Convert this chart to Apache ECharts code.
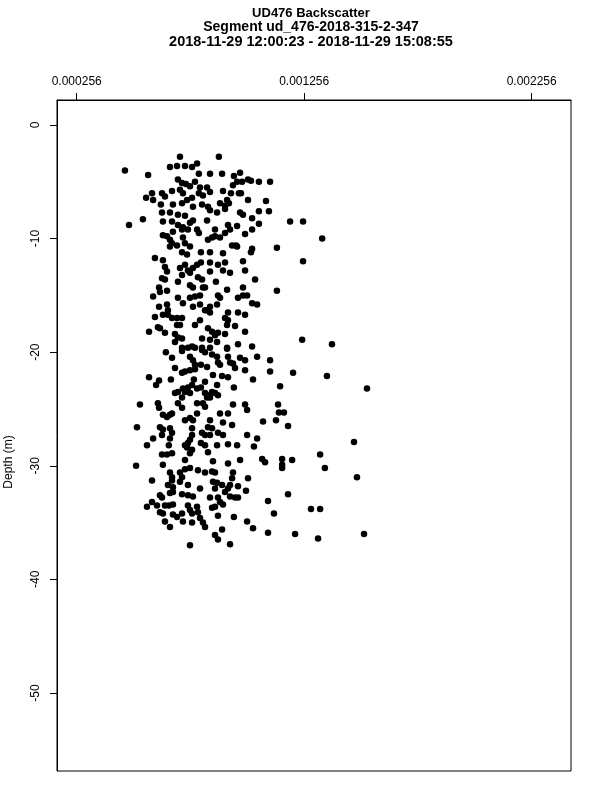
<!DOCTYPE html>
<html>
<head>
<meta charset="utf-8">
<script src="https://cdn.jsdelivr.net/npm/echarts@6/dist/echarts.min.js"></script>
<style>html,body{margin:0;padding:0;background:#fff}#chart{width:600px;height:800px}</style>
</head>
<body>
<div id="chart"></div>
<script>
const titleLines = [
  'UD476 Backscatter',
  'Segment ud_476-2018-315-2-347',
  '2018-11-29 12:00:23 - 2018-11-29 15:08:55'
];
const yAxisTitle = 'Depth (m)';
const xTickValues = [0.000256, 0.001256, 0.002256];
const yTickValues = [0, -10, -20, -30, -40, -50];
const xRange = [0.0001694, 0.0024288];
const yRange = [-56.87, 2.2];

const backscatter = [
  0.000710,0.000881,0.000468,0.000570,0.000666,0.000697,0.000732,0.000763,0.000785,0.000793,
  0.000842,0.000895,0.000947,0.000974,0.001009,0.000701,0.000719,0.000736,0.000754,0.000776,
  0.000798,0.000829,0.000842,0.000943,0.000961,0.000587,0.000561,0.000631,0.000644,0.000675,
  0.000710,0.000723,0.000741,0.000763,0.000793,0.000811,0.000899,0.000934,0.000969,0.000917,
  0.001009,0.000592,0.000626,0.000679,0.000719,0.000767,0.000807,0.000833,0.000842,0.000886,
  0.000908,0.000925,0.000631,0.000666,0.000701,0.000732,0.000767,0.000754,0.000873,0.000908,
  0.000974,0.000987,0.000486,0.000547,0.000635,0.000675,0.000701,0.000723,0.000745,0.000785,
  0.000829,0.000864,0.000921,0.000930,0.000908,0.000961,0.000996,0.000635,0.000653,0.000679,
  0.000719,0.000793,0.000666,0.000675,0.000723,0.000732,0.000833,0.000851,0.000864,0.000886,
  0.000939,0.000956,0.000983,0.001022,0.001057,0.001106,0.000978,0.001088,0.001027,0.001057,
  0.001101,0.001057,0.001027,0.001194,0.001251,0.001335,0.001136,0.001027,0.000666,0.000697,
  0.000719,0.000741,0.000754,0.000802,0.000842,0.000899,0.000961,0.001022,0.000600,0.000635,
  0.000644,0.000653,0.000710,0.000732,0.000745,0.000767,0.000785,0.000802,0.000842,0.000877,
  0.000908,0.000899,0.000930,0.000987,0.000996,0.000842,0.000719,0.000754,0.000631,0.000644,
  0.000789,0.000807,0.000701,0.000754,0.000767,0.000811,0.000820,0.000868,0.001040,0.000618,
  0.000622,0.000653,0.000917,0.000987,0.000592,0.000701,0.000754,0.000776,0.000798,0.000877,
  0.000886,0.000965,0.000987,0.001005,0.000723,0.000767,0.000798,0.000842,0.000829,0.000873,
  0.001027,0.001049,0.000618,0.000653,0.000657,0.000600,0.000635,0.000657,0.000675,0.000697,
  0.000719,0.000798,0.000820,0.000842,0.000908,0.000921,0.000921,0.000965,0.000996,0.000697,
  0.000710,0.000776,0.000917,0.000952,0.000613,0.000622,0.000574,0.000644,0.000688,0.000701,
  0.000719,0.000833,0.000851,0.000864,0.000877,0.000908,0.000996,0.000807,0.000688,0.000842,
  0.000873,0.000965,0.001027,0.000719,0.000763,0.000776,0.000807,0.000917,0.000719,0.000745,
  0.000807,0.000820,0.000842,0.000851,0.000917,0.000648,0.000675,0.000754,0.000767,0.000776,
  0.000802,0.000829,0.000873,0.000877,0.000886,0.000921,0.000930,0.000943,0.000952,0.000974,
  0.000996,0.001049,0.001106,0.000688,0.000719,0.000732,0.000754,0.000776,0.000996,0.001106,
  0.000574,0.000618,0.000605,0.000670,0.000771,0.000820,0.000855,0.000895,0.000921,0.001031,
  0.000873,0.000723,0.000745,0.000763,0.000785,0.000802,0.000947,0.000688,0.000701,0.000719,
  0.000732,0.000754,0.000820,0.000833,0.000851,0.000864,0.000829,0.000842,0.000811,0.000820,
  0.000877,0.000534,0.000613,0.000618,0.000701,0.000719,0.000785,0.000943,0.000996,0.001005,
  0.000635,0.000653,0.000666,0.000675,0.000732,0.000754,0.000767,0.000785,0.000842,0.000886,
  0.000921,0.001075,0.000521,0.000622,0.000635,0.000666,0.000675,0.000666,0.000763,0.000833,
  0.000851,0.000899,0.000939,0.000592,0.000631,0.000763,0.000754,0.000745,0.000807,0.000820,
  0.000842,0.000877,0.000899,0.001005,0.001049,0.000565,0.000661,0.000732,0.000802,0.000820,
  0.000873,0.000921,0.000961,0.001035,0.000741,0.000763,0.000754,0.000833,0.000631,0.000653,
  0.000675,0.000732,0.000635,0.000855,0.000921,0.000974,0.001071,0.001084,0.000517,0.000666,
  0.000675,0.000675,0.000710,0.000719,0.000710,0.000732,0.000754,0.000789,0.000820,0.000851,
  0.000864,0.000943,0.000939,0.001009,0.000587,0.000657,0.000679,0.000745,0.000798,0.000855,
  0.000873,0.000895,0.000864,0.000921,0.000930,0.000965,0.001000,0.000679,0.000666,0.000719,
  0.000745,0.000767,0.000622,0.000631,0.000842,0.000877,0.000886,0.000908,0.000930,0.000952,
  0.000965,0.001097,0.000565,0.000587,0.000609,0.000622,0.000635,0.000644,0.000661,0.000679,
  0.000745,0.000754,0.000785,0.000789,0.000851,0.000864,0.000899,0.000679,0.000697,0.000719,
  0.000763,0.000798,0.000811,0.000820,0.000877,0.000947,0.000723,0.000763,0.000644,0.000666,
  0.001005,0.001031,0.000895,0.001097,0.000864,0.000877,0.000754,0.000930,
  0.001251,0.001136,0.001247,0.001378,0.001207,0.001356,0.001150,0.001532,0.001141,0.001145,
  0.001167,0.001132,0.001185,0.001475,0.001326,0.001159,0.001159,0.001159,0.001203,0.001347,
  0.001488,0.001185,0.001123,0.001286,0.001326,0.001216,0.001317,0.001519
];

const depth = [
  -2.8,-2.8,-4.0,-4.4,-3.7,-3.6,-3.6,-3.7,-3.4,-4.3,
  -4.3,-4.3,-4.5,-4.2,-4.8,-4.8,-5.1,-5.2,-5.4,-5.0,
  -5.5,-5.5,-5.9,-5.3,-5.0,-6.0,-6.4,-6.0,-6.3,-5.8,
  -5.7,-6.0,-6.6,-6.4,-6.0,-6.2,-5.8,-6.0,-6.0,-6.6,
  -6.6,-6.6,-7.0,-7.0,-6.9,-7.2,-7.0,-7.2,-7.5,-6.9,
  -7.1,-6.9,-7.7,-7.7,-7.9,-8.0,-8.4,-8.6,-7.7,-7.4,
  -7.7,-7.9,-8.8,-8.3,-8.5,-8.5,-8.8,-9.0,-9.2,-9.2,
  -8.4,-9.2,-8.8,-9.2,-9.5,-8.9,-9.6,-9.7,-9.8,-9.4,
  -9.2,-9.5,-10.1,-10.4,-9.9,-10.4,-10.1,-9.9,-9.8,-9.9,
  -10.6,-10.6,-5.0,-4.9,-5.0,-5.0,-6.0,-6.7,-8.2,-7.6,
  -7.6,-8.7,-9.2,-8.5,-8.5,-10.0,-10.8,-10.9,-10.7,-10.6,
  -11.2,-11.4,-10.7,-11.2,-11.2,-11.3,-10.7,-11.2,-11.7,-11.9,
  -12.5,-12.9,-12.6,-12.3,-12.8,-12.6,-12.3,-12.1,-12.1,-12.3,
  -12.1,-12.8,-13.0,-12.0,-12.8,-12.9,-13.2,-13.0,-13.5,-13.6,
  -13.4,-13.6,-13.8,-14.1,-14.3,-14.3,-14.3,-13.8,-13.6,-14.3,
  -14.7,-14.6,-14.5,-14.3,-15.1,-15.2,-15.2,-15.1,-15.0,-15.0,
  -15.2,-15.2,-15.0,-15.0,-15.7,-16.0,-15.8,-16.0,-16.3,-15.8,
  -15.7,-15.8,-16.0,-15.8,-16.3,-16.9,-16.7,-16.7,-17.0,-17.0,
  -17.0,-17.2,-16.3,-16.5,-17.0,-17.2,-16.5,-16.5,-16.7,-17.6,
  -17.6,-17.6,-17.6,-17.7,-17.8,-17.9,-18.2,-18.3,-18.4,-18.7,
  -18.8,-17.9,-18.2,-18.5,-18.3,-18.4,-18.2,-18.8,-19.1,-18.9,
  -19.1,-19.3,-19.5,-19.6,-19.5,-19.6,-19.6,-19.6,-19.9,-19.6,
  -19.8,-20.0,-19.6,-20.2,-19.7,-20.0,-20.5,-20.4,-20.7,-21.1,
  -21.1,-21.3,-20.4,-20.9,-21.1,-20.4,-20.9,-21.0,-21.4,-20.5,
  -20.7,-20.4,-20.7,-21.4,-21.8,-21.7,-21.6,-21.5,-21.6,-21.7,
  -22.2,-22.5,-22.9,-22.4,-22.4,-22.6,-22.0,-22.1,-22.2,-22.4,
  -22.9,-23.2,-23.1,-22.9,-23.2,-23.1,-23.1,-23.6,-23.5,-24.0,
  -23.5,-23.6,-23.6,-23.8,-23.5,-23.6,-24.0,-24.0,-24.5,-24.8,
  -23.8,-24.6,-24.5,-24.9,-24.5,-24.9,-24.5,-24.6,-24.6,-25.1,
  -25.5,-25.7,-25.5,-25.4,-26.0,-25.8,-26.0,-25.4,-26.0,-25.4,
  -25.4,-26.1,-26.6,-26.6,-26.8,-26.7,-27.1,-27.6,-26.7,-26.6,
  -26.7,-26.2,-26.4,-27.6,-27.3,-27.3,-27.7,-28.0,-27.1,-27.3,
  -27.3,-27.1,-27.3,-27.3,-27.6,-28.2,-28.2,-28.2,-28.0,-28.2,
  -28.2,-28.1,-28.2,-28.3,-28.4,-28.6,-28.9,-28.8,-29.0,-29.0,
  -28.9,-29.5,-29.9,-29.6,-29.8,-29.5,-29.4,-29.7,-30.0,-30.6,
  -31.0,-31.3,-30.6,-31.0,-31.4,-30.3,-30.2,-30.4,-30.6,-30.5,
  -30.6,-30.6,-31.1,-31.1,-31.3,-31.7,-31.9,-31.7,-32.0,-31.4,
  -31.5,-31.7,-32.0,-32.0,-31.7,-31.8,-32.2,-32.3,-32.4,-32.5,
  -32.6,-32.7,-32.6,-32.8,-32.8,-32.8,-33.2,-32.3,-32.7,-32.8,
  -32.8,-33.1,-33.6,-33.2,-33.5,-34.1,-34.2,-33.5,-33.5,-33.4,
  -33.5,-33.9,-33.6,-34.1,-33.7,-33.6,-33.4,-34.3,-34.5,-34.2,
  -34.2,-34.6,-35.0,-35.4,-34.4,-34.5,-34.9,-35.0,-34.9,-35.4,
  -34.9,-35.5,-35.6,-35.9,-36.1,-36.5,-37.0,-36.9,
  -12.0,-14.6,-18.9,-19.3,-21.8,-22.1,-23.0,-23.2,-24.6,-25.3,
  -25.3,-26.0,-26.5,-27.9,-29.0,-29.4,-29.9,-30.2,-29.5,-30.2,
  -31.0,-32.5,-34.2,-33.8,-33.8,-36.0,-36.4,-36.0
];

const points = backscatter.map((v, i) => [v, depth[i]]);
const FONT = '"Liberation Sans", Arial, Helvetica, sans-serif';

const chart = echarts.init(document.getElementById('chart'), null, { renderer: 'canvas' });
chart.setOption({
  animation: false,
  backgroundColor: '#fff',
  grid: {
    left: 57, top: 100, right: 29, bottom: 29,
    show: true, borderColor: '#000', borderWidth: 1, backgroundColor: 'transparent'
  },
  graphic: [
    { type: 'text', x: 311, y: 13, style: { text: titleLines[0], font: 'bold 13px ' + FONT, fill: '#000', textAlign: 'center', textVerticalAlign: 'middle' } },
    { type: 'text', x: 311, y: 27.5, style: { text: titleLines[1], font: 'bold 14px ' + FONT, fill: '#000', textAlign: 'center', textVerticalAlign: 'middle' } },
    { type: 'text', x: 311, y: 42, style: { text: titleLines[2], font: 'bold 14.5px ' + FONT, fill: '#000', textAlign: 'center', textVerticalAlign: 'middle' } },
    { type: 'text', x: 9, y: 462, rotation: Math.PI / 2, style: { text: yAxisTitle, font: '12px ' + FONT, fill: '#000', textAlign: 'center', textVerticalAlign: 'middle' } }
  ],
  xAxis: {
    type: 'value',
    position: 'top',
    min: xRange[0],
    max: xRange[1],
    splitLine: { show: false },
    axisLine: { show: true, onZero: false, lineStyle: { color: '#000', width: 1 } },
    axisTick: { show: true, length: 7, customValues: xTickValues, lineStyle: { color: '#000', width: 1 } },
    axisLabel: {
      show: true, customValues: xTickValues, margin: 12, color: '#000', fontSize: 12, fontFamily: FONT,
      formatter: v => Number(v).toFixed(6)
    }
  },
  yAxis: {
    type: 'value',
    min: yRange[0],
    max: yRange[1],
    splitLine: { show: false },
    axisLine: { show: true, onZero: false, lineStyle: { color: '#000', width: 1 } },
    axisTick: { show: true, length: 7, customValues: yTickValues, lineStyle: { color: '#000', width: 1 } },
    axisLabel: {
      show: true, customValues: yTickValues, rotate: 90, margin: 15, color: '#000', fontSize: 12, fontFamily: FONT,
      formatter: v => String(Math.round(v))
    }
  },
  series: [{
    type: 'scatter',
    data: points,
    symbol: 'circle',
    symbolSize: 6.5,
    itemStyle: { color: '#000', opacity: 1 },
    emphasis: { disabled: true },
    silent: true
  }]
});
</script>
</body>
</html>
